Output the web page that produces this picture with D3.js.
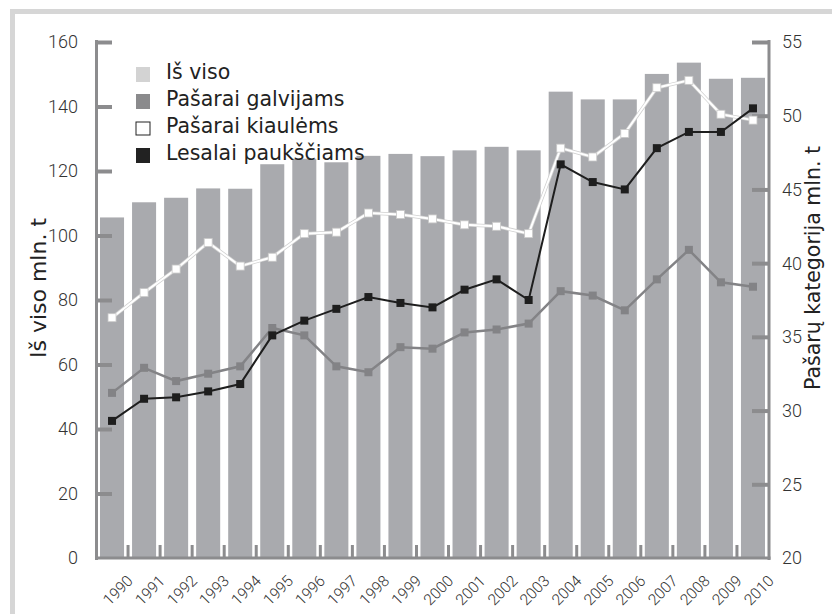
<!DOCTYPE html>
<html><head><meta charset="utf-8">
<script src="https://cdn.jsdelivr.net/npm/d3@7"></script>
<style>
body{margin:0;background:#fff;}
svg{display:block;}
</style></head>
<body>
<svg id="c" width="832" height="614"></svg>
<script>
const years = ["1990","1991","1992","1993","1994","1995","1996","1997","1998","1999","2000","2001","2002","2003","2004","2005","2006","2007","2008","2009","2010"];
const isViso = [105.6,110.3,111.7,114.6,114.5,122.1,123.8,122.7,124.7,125.3,124.6,126.4,127.5,126.4,144.6,142.2,142.2,150.1,153.6,148.6,148.9];
const galvijams = [31.2,32.9,32.0,32.5,33.0,35.6,35.1,33.0,32.6,34.3,34.2,35.3,35.5,35.9,38.1,37.8,36.8,38.9,40.9,38.7,38.4];
const kiaulems = [36.3,38.0,39.6,41.4,39.8,40.4,42.0,42.1,43.4,43.3,43.0,42.6,42.5,42.0,47.8,47.2,48.8,51.9,52.4,50.1,49.7];
const pauksciams = [29.3,30.8,30.9,31.3,31.8,35.1,36.1,36.9,37.7,37.3,37.0,38.2,38.9,37.5,46.7,45.5,45.0,47.8,48.9,48.9,50.5];
const leftTicks = [0,20,40,60,80,100,120,140,160];
const rightTicks = [20,25,30,35,40,45,50,55];
const legendLabels = ["Iš viso","Pašarai galvijams","Pašarai kiaulėms","Lesalai paukščiams"];
const leftTitle = "Iš viso mln. t";
const rightTitle = "Pašarų kategorija mln. t";

const svg = d3.select("#c");
const axisCol = "#8c8c8e";
const barCol = "#a9aaae";

// frame
svg.append("rect").attr("x",10).attr("y",9).attr("width",830).attr("height",5).attr("fill","#d6d6d6");
svg.append("rect").attr("x",10).attr("y",9).attr("width",5).attr("height",620).attr("fill","#d6d6d6");

const x = d3.scaleBand().domain(years).range([96,769]).paddingInner(0.25).paddingOuter(0.125);
const yL = d3.scaleLinear().domain([0,160]).range([558,42]);
const yR = d3.scaleLinear().domain([20,55]).range([558,42]);

// bars
svg.append("g").selectAll("rect").data(years).join("rect")
  .attr("x",d=>x(d)).attr("width",x.bandwidth())
  .attr("y",(d,i)=>yL(isViso[i])).attr("height",(d,i)=>yL(0)-yL(isViso[i]))
  .attr("fill",barCol);

// axes lines
const g = svg.append("g");
g.append("line").attr("x1",96.5).attr("x2",96.5).attr("y1",yL(160)-2).attr("y2",yL(0)+2).attr("stroke",axisCol).attr("stroke-width",3);
g.append("line").attr("x1",769).attr("x2",769).attr("y1",yR(55)-2).attr("y2",yR(20)+2).attr("stroke",axisCol).attr("stroke-width",3);
g.append("line").attr("x1",95).attr("x2",770.5).attr("y1",558).attr("y2",558).attr("stroke",axisCol).attr("stroke-width",3);

// left ticks
const lAx = d3.axisRight(yL).tickValues(leftTicks).tickSize(16).tickFormat("");
const la = svg.append("g").attr("transform","translate(96,0)").call(lAx);
la.select(".domain").remove();
la.selectAll(".tick line").attr("stroke",axisCol).attr("stroke-width",4);
la.selectAll(".tick").filter(d=>d===0).remove();
svg.append("g").selectAll("text").data(leftTicks).join("text")
  .attr("x",78).attr("y",d=>yL(d)).attr("dy","0.36em").attr("text-anchor","end")
  .attr("font-family","Roboto").attr("font-weight",300).attr("font-size",18).attr("fill","#333")
  .text(d=>d);

// right ticks
const rAx = d3.axisLeft(yR).tickValues(rightTicks).tickSize(17).tickFormat("");
const ra = svg.append("g").attr("transform","translate(769,0)").call(rAx);
ra.select(".domain").remove();
ra.selectAll(".tick line").attr("stroke",axisCol).attr("stroke-width",4);
ra.selectAll(".tick").filter(d=>d===20).remove();
svg.append("g").selectAll("text").data(rightTicks).join("text")
  .attr("x",782).attr("y",d=>yR(d)).attr("dy","0.36em").attr("text-anchor","start")
  .attr("font-family","Roboto").attr("font-weight",300).attr("font-size",18).attr("fill","#333")
  .text(d=>d);

// bottom ticks between bars
svg.append("g").selectAll("line").data(years.slice(1)).join("line")
  .attr("x1",d=>x(d)-x.step()*0.125).attr("x2",d=>x(d)-x.step()*0.125)
  .attr("y1",545).attr("y2",558).attr("stroke",axisCol).attr("stroke-width",3);

// x labels (rotated -45)
const xl = svg.append("g");
years.forEach(d=>{
  const px = x(d)+x.bandwidth()/2+14, py = 574;
  xl.append("text").attr("x",px).attr("y",py)
    .attr("transform","rotate(-45 "+px+" "+py+")")
    .attr("text-anchor","end").attr("dy","0.72em")
    .attr("font-family","Roboto").attr("font-weight",300).attr("font-size",15.5).attr("fill","#333")
    .text(d);
});

// lines
const cx = d=>x(d)+x.bandwidth()/2;
function drawLine(vals, stroke, width, mFill, mStroke, under){
  const line = d3.line().x((v,i)=>cx(years[i])).y(v=>yR(v));
  if(under){
    svg.append("path").attr("d",line(vals)).attr("fill","none").attr("stroke",under).attr("stroke-width",width+1.5);
  }
  svg.append("path").attr("d",line(vals)).attr("fill","none").attr("stroke",stroke).attr("stroke-width",width);
  svg.append("g").selectAll("rect").data(vals).join("rect")
    .attr("x",(v,i)=>cx(years[i])-4).attr("y",v=>yR(v)-4).attr("width",8).attr("height",8)
    .attr("fill",mFill).attr("stroke",mStroke).attr("stroke-width",mStroke==="none"?0:0.8);
}
drawLine(galvijams,"#838386",2.5,"#838386","none");
drawLine(kiaulems,"#ffffff",2,"#ffffff","#c8c8c8","#d0d0d0");
drawLine(pauksciams,"#1e1e1e",2,"#1e1e1e","none");

// legend
const legFill = ["#d3d3d3","#8a8a8c","#ffffff","#222222"];
const legStroke = ["none","none","#222","none"];
const lg = svg.append("g");
legendLabels.forEach((t,i)=>{
  const yy = 67 + i*27;
  lg.append("rect").attr("x",136).attr("y",yy+(i===2?1:0)).attr("width",14).attr("height",i===2?13:15)
    .attr("fill",legFill[i]).attr("stroke",legStroke[i]).attr("stroke-width",1);
  lg.append("text").attr("x",166).attr("y",yy+12).attr("font-family","DejaVu Sans").attr("font-size",20.5)
    .attr("fill","#222").text(t);
});

// titles
svg.append("text").attr("transform",`translate(46,${288}) rotate(-90)`).attr("text-anchor","middle")
  .attr("font-family","DejaVu Sans").attr("font-size",22).attr("fill","#222").text(leftTitle);
svg.append("text").attr("transform",`translate(820,${268}) rotate(-90)`).attr("text-anchor","middle")
  .attr("font-family","DejaVu Sans").attr("font-size",20.5).attr("fill","#222").text(rightTitle);
</script>
</body></html>
